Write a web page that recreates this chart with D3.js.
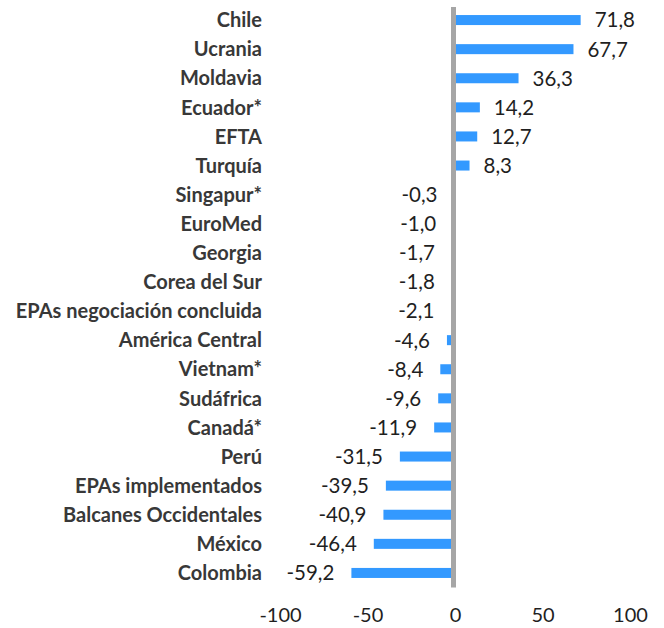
<!DOCTYPE html>
<html>
<head>
<meta charset="utf-8">
<script src="https://cdn.jsdelivr.net/npm/d3@7"></script>
<style>
  html, body { margin: 0; padding: 0; background: #fff; }
  svg { display: block; }
  text { font-variant-numeric: tabular-nums; font-feature-settings: "tnum" 1; }
</style>
</head>
<body>
<div id="chart"></div>
<script>
const categories = ["Chile","Ucrania","Moldavia","Ecuador*","EFTA","Turquía","Singapur*","EuroMed","Georgia","Corea del Sur","EPAs negociación concluida","América Central","Vietnam*","Sudáfrica","Canadá*","Perú","EPAs implementados","Balcanes Occidentales","México","Colombia"];
const values = [71.8,67.7,36.3,14.2,12.7,8.3,-0.3,-1.0,-1.7,-1.8,-2.1,-4.6,-8.4,-9.6,-11.9,-31.5,-39.5,-40.9,-46.4,-59.2];
const tickValues = [-100,-50,0,50,100];

const W = 664, H = 628;
const svg = d3.select("#chart").append("svg").attr("width", W).attr("height", H);
const font = "Lato, 'Open Sans', sans-serif";

const x = d3.scaleLinear().domain([-100, 100]).range([280, 630]);
const y = d3.scaleBand().domain(categories).range([5.5, 587.5]).paddingInner(0.656).paddingOuter(0.328);
const bw = y.bandwidth();

const data = categories.map((c, i) => ({c, v: values[i]}));

// bars
svg.append("g").selectAll("rect").data(data).join("rect")
  .attr("x", d => Math.min(x(0), x(d.v)))
  .attr("y", d => y(d.c))
  .attr("width", d => Math.abs(x(d.v) - x(0)))
  .attr("height", bw)
  .attr("fill", "#3399FF");

// zero line
svg.append("line")
  .attr("x1", x(0) - 1.5).attr("x2", x(0) - 1.5)
  .attr("y1", y.range()[0] + 1.5).attr("y2", y.range()[1])
  .attr("stroke", "#A6A6A6").attr("stroke-width", 5);

// value labels
svg.append("g").selectAll("text").data(data).join("text")
  .attr("x", d => d.v >= 0 ? x(d.v) + 14 : x(d.v) - 17)
  .attr("y", d => y(d.c) + bw / 2)
  .attr("dy", "0.36em")
  .attr("text-anchor", d => d.v >= 0 ? "start" : "end")
  .attr("font-family", font).attr("font-size", 20.5).attr("fill", "#1f1f1f")
  .text(d => d3.format(".1f")(d.v).replace(".", ",").replace("−", "-"));

// category labels
svg.append("g").selectAll("text").data(data).join("text")
  .attr("x", 262)
  .attr("y", d => y(d.c) + bw / 2)
  .attr("dy", "0.36em")
  .attr("text-anchor", "end")
  .attr("font-family", font).attr("font-size", 20).attr("font-weight", "bold").attr("fill", "#383838")
  .text(d => d.c);

// x axis tick labels
const axis = d3.axisBottom(x).tickValues(tickValues).tickSize(0).tickPadding(0)
  .tickFormat(d => String(d).replace("−", "-"));
const gx = svg.append("g").attr("transform", "translate(0,608)").call(axis);
gx.select(".domain").remove();
gx.selectAll("text").attr("font-family", font).attr("font-size", 20).attr("fill", "#1f1f1f");
</script>
</body>
</html>
